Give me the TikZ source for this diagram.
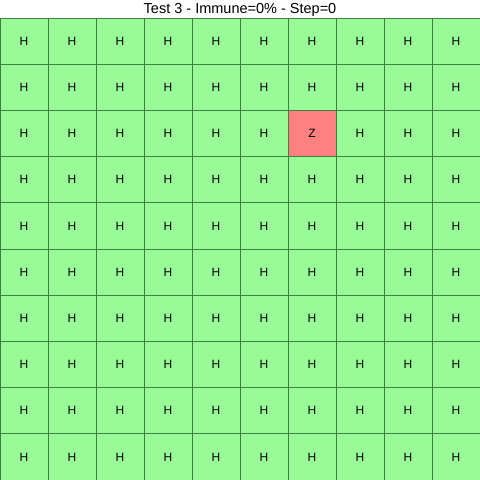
\documentclass[tikz,border=0pt]{standalone}
\usepackage{fontspec}
\setmainfont{Liberation Sans}
\definecolor{hcol}{HTML}{98FB98}
\definecolor{zcol}{HTML}{FF8080}
\definecolor{gridline}{HTML}{3F7F3F}
\tikzset{
  cellbox/.style={draw=gridline, line width=1pt, minimum width=48pt, minimum height=46.2pt, inner sep=0pt, font=\fontsize{12}{14}\selectfont},
  hcell/.style={cellbox, fill=hcol},
  zcell/.style={cellbox, fill=zcol},
}
\begin{document}
\begin{tikzpicture}[x=1pt,y=-1pt]
\useasboundingbox (0,0) rectangle (480,480);
\fill[white] (0,0) rectangle (480,480);
\node[font=\fontsize{14.5}{16}\selectfont] (title) at (240,9.5) {Test 3 - Immune=0\% - Step=0};
\foreach \r in {0,...,9}{
  \foreach \c in {0,...,9}{
    \pgfmathsetmacro{\cx}{24+48*\c}
    \pgfmathsetmacro{\cy}{18+46.2*\r+23.1}
    \ifnum\r=2 \ifnum\c=6
      \node[zcell] (c-\r-\c) at (\cx,\cy) {Z};
    \else
      \node[hcell] (c-\r-\c) at (\cx,\cy) {H};
    \fi\else
      \node[hcell] (c-\r-\c) at (\cx,\cy) {H};
    \fi
  }
}
\end{tikzpicture}
\end{document}
